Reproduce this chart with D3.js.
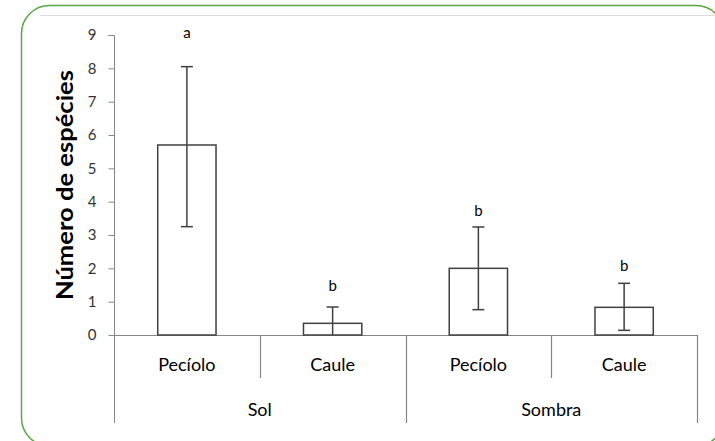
<!DOCTYPE html>
<html>
<head>
<meta charset="utf-8">
<title>Número de espécies</title>
<script src="https://d3js.org/d3.v7.min.js"></script>
<style>
  body { margin: 0; background: #fff; }
  svg { display: block; font-family: Lato, 'Open Sans', sans-serif; }
  .tick text { fill: #333; font-size: 15px; font-family: Lato, sans-serif; }
  .tick line, .domain { stroke: #868686; }
  .bar { fill: #fff; stroke: #404040; stroke-width: 1.5; }
  .err { stroke: #404040; stroke-width: 1.5; }
</style>
</head>
<body>
<svg width="715" height="441"></svg>
<script>
// data
var groups = ["Sol", "Sombra"];
var parts = ["Pecíolo", "Caule"];
var means = [5.7, 0.35, 2.0, 0.83];
var errLow = [3.25, 0, 0.76, 0.14];
var errHigh = [8.05, 0.84, 3.24, 1.55];
var letters = ["a", "b", "b", "b"];
var letterAt = [8.91, 1.32, 3.57, 1.92];
var yTicks = [0, 1, 2, 3, 4, 5, 6, 7, 8, 9];

var svg = d3.select("svg");

// green rounded frame
svg.append("rect")
    .attr("x", 21.5).attr("y", 5.5)
    .attr("width", 702.5).attr("height", 440.5)
    .attr("rx", 28).attr("ry", 28)
    .attr("fill", "none")
    .attr("stroke", "#5aa845")
    .attr("stroke-width", 1.5);

svg.append("line")
    .attr("x1", 40).attr("x2", 715)
    .attr("y1", 15.5).attr("y2", 15.5)
    .attr("stroke", "#dcdcdc");

var cells = [];
groups.forEach(function(g) {
  parts.forEach(function(p) { cells.push(g + "|" + p); });
});

var x = d3.scaleBand()
    .domain(cells)
    .range([114, 697])
    .paddingInner(0.6).paddingOuter(0.3);

var xg = d3.scaleBand()
    .domain(groups)
    .range([114, 697]);

var y = d3.scaleLinear()
    .domain([0, 9])
    .range([335, 35]);

// y axis
svg.append("g")
    .attr("transform", "translate(114.5,0)")
    .call(d3.axisLeft(y).tickValues(yTicks).tickSize(6).tickPadding(12))
  .call(function(g) { g.select(".domain").attr("d", "M-6," + (y(9) + 0.5) + "H0V423"); });

svg.append("text")
    .attr("transform", "translate(73," + ((y(0) + y(9)) / 2) + ") rotate(-90)")
    .attr("text-anchor", "middle")
    .attr("font-size", 22)
    .attr("font-weight", "bold")
    .attr("fill", "#000")
    .attr("textLength", 230)
    .attr("lengthAdjust", "spacingAndGlyphs")
    .text("Número de espécies");

// x axis line + category separators
var axis = svg.append("g").attr("stroke", "#868686").attr("stroke-width", 1.2);
axis.append("line")
    .attr("x1", 114).attr("x2", 697)
    .attr("y1", y(0) + 0.5).attr("y2", y(0) + 0.5);

var step = (697 - 114) / cells.length;
d3.range(1, cells.length + 1).forEach(function(i) {
  var xx = Math.round(114 + i * step) + 0.5;
  axis.append("line")
      .attr("x1", xx).attr("x2", xx)
      .attr("y1", y(0)).attr("y2", i % 2 === 0 ? 423 : 378);
});

svg.selectAll(".cat")
  .data(cells)
  .enter().append("text")
    .attr("class", "cat")
    .attr("x", function(d) { return x(d) + x.bandwidth() / 2; })
    .attr("y", 371)
    .attr("text-anchor", "middle")
    .attr("font-size", 18)
    .attr("fill", "#000")
    .text(function(d) { return d.split("|")[1]; });

svg.selectAll(".grp")
  .data(groups)
  .enter().append("text")
    .attr("class", "grp")
    .attr("x", function(d) { return xg(d) + xg.bandwidth() / 2; })
    .attr("y", 416)
    .attr("text-anchor", "middle")
    .attr("font-size", 18)
    .attr("fill", "#000")
    .text(function(d) { return d; });

// bars
svg.selectAll(".bar")
  .data(means)
  .enter().append("rect")
    .attr("class", "bar")
    .attr("x", function(d, i) { return x(cells[i]); })
    .attr("width", x.bandwidth())
    .attr("y", function(d) { return y(d); })
    .attr("height", function(d) { return y(0) - y(d); });

// error bars
var cx = function(i) { return x(cells[i]) + x.bandwidth() / 2; };
var eb = svg.selectAll(".eb")
  .data(means)
  .enter().append("g")
    .attr("class", "err");

eb.append("line")
    .attr("x1", function(d, i) { return cx(i); })
    .attr("x2", function(d, i) { return cx(i); })
    .attr("y1", function(d, i) { return y(errHigh[i]); })
    .attr("y2", function(d, i) { return y(errLow[i]); });

eb.append("line")
    .attr("x1", function(d, i) { return cx(i) - 6; })
    .attr("x2", function(d, i) { return cx(i) + 6; })
    .attr("y1", function(d, i) { return y(errHigh[i]); })
    .attr("y2", function(d, i) { return y(errHigh[i]); });

eb.append("line")
    .attr("x1", function(d, i) { return cx(i) - 6; })
    .attr("x2", function(d, i) { return cx(i) + 6; })
    .attr("y1", function(d, i) { return y(errLow[i]); })
    .attr("y2", function(d, i) { return y(errLow[i]); })
    .attr("display", function(d, i) { return errLow[i] > 0 ? null : "none"; });

// significance letters
svg.selectAll(".letter")
  .data(letters)
  .enter().append("text")
    .attr("x", function(d, i) { return cx(i); })
    .attr("y", function(d, i) { return y(letterAt[i]); })
    .attr("text-anchor", "middle")
    .attr("font-size", 15)
    .attr("fill", "#000")
    .text(function(d) { return d; });
</script>
</body>
</html>
